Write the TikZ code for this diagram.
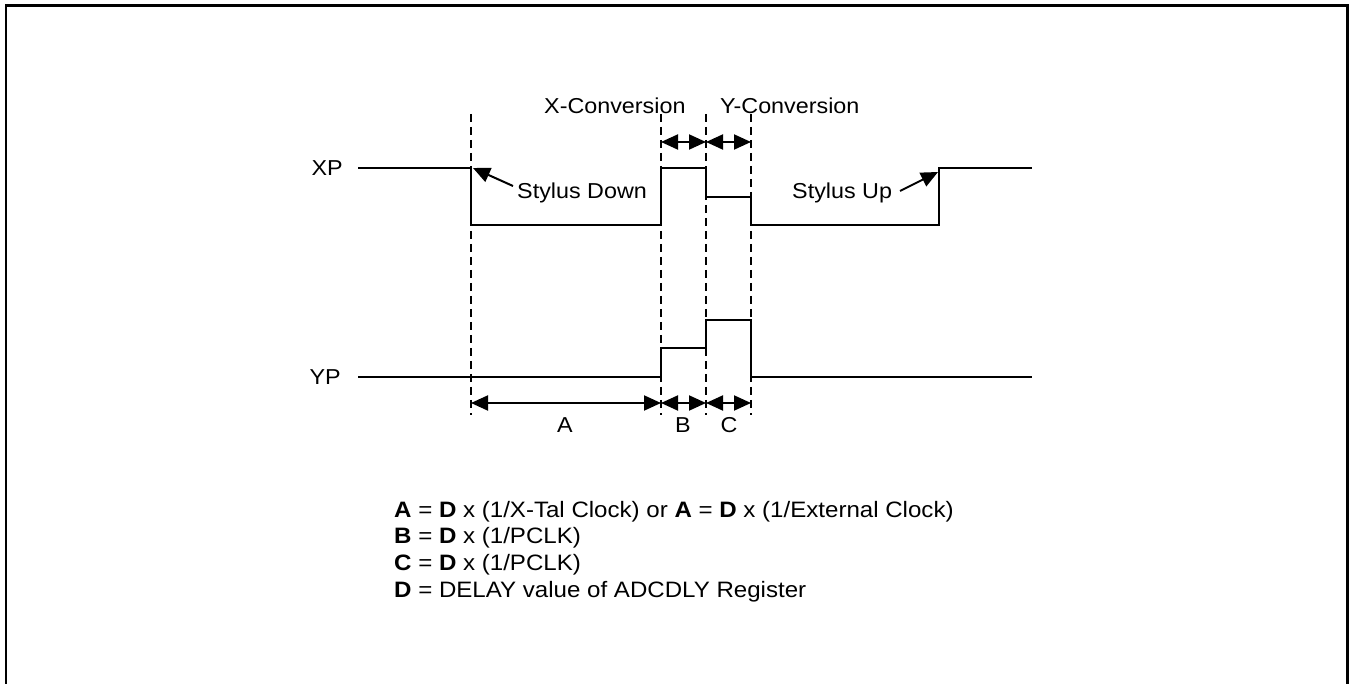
\documentclass[tikz,border=0pt]{standalone}
\usepackage{fontspec}
\setmainfont{Liberation Sans}[FakeStretch=1.08]
\usetikzlibrary{arrows.meta}
\tikzset{
  sig/.style={line width=2pt, line cap=butt, line join=miter},
  guide/.style={line width=2pt, dash pattern=on 8pt off 5pt},
  dim/.style={line width=2pt, {Triangle[length=17pt,width=15pt]}-{Triangle[length=17pt,width=15pt]}},
  callout/.style={line width=2pt, -{Triangle[length=17pt,width=15pt]}},
  txt/.style={inner sep=0pt, font=\fontsize{21.6}{26}\selectfont},
  legend/.style={inner sep=0pt, font=\fontsize{22.3}{27}\selectfont},
}
\begin{document}
\begin{tikzpicture}[x=1pt,y=-1pt]
\useasboundingbox (0,0) rectangle (1349,684);
% frame (open at bottom)
\draw[line width=2.5pt] (6,684) -- (6,5.7) -- (1347.5,5.7) -- (1347.5,684);

% guide lines
\coordinate (g1t) at (471,114); \coordinate (g1b) at (471,415);
\coordinate (g2t) at (661,114); \coordinate (g2b) at (661,415);
\coordinate (g3t) at (706,114); \coordinate (g3b) at (706,415);
\coordinate (g4t) at (751,114); \coordinate (g4b) at (751,415);
\foreach \i in {1,2,3,4} \draw[guide] (g\i t) -- (g\i b);

% labels
\node[txt, anchor=base east] (xp) at (343,175.5) {XP};
\node[txt, anchor=base east] (yp) at (341,384.5) {YP};
\node[txt, anchor=base west] (xconv) at (544,114) {X-Conversion};
\node[txt, anchor=base west] (yconv) at (720,114) {Y-Conversion};
\node[txt, anchor=base west] (sdown) at (517,199) {Stylus Down};
\node[txt, anchor=base west] (sup) at (792,199) {Stylus Up};
\node[txt, anchor=base] (la) at (565,432) {A};
\node[txt, anchor=base] (lb) at (683,432) {B};
\node[txt, anchor=base] (lc) at (729,432) {C};

% XP waveform
\draw[sig] (358,168) -- (471,168) -- (471,225) -- (661,225) -- (661,168) -- (706,168)
  -- (706,197) -- (751,197) -- (751,225) -- (939,225) -- (939,168) -- (1032,168);
% YP waveform
\draw[sig] (358,377) -- (661,377) -- (661,348) -- (706,348) -- (706,320) -- (751,320)
  -- (751,377) -- (1032,377);

% conversion arrows
\coordinate (t1) at (661,142); \coordinate (t2) at (706,142); \coordinate (t3) at (751,142);
\draw[dim] (t1) -- (t2);
\draw[dim] (t2) -- (t3);
\coordinate (b0) at (471,403); \coordinate (b1) at (661,403);
\coordinate (b2) at (706,403); \coordinate (b3) at (751,403);
\draw[dim] (b0) -- (b1);
\draw[dim] (b1) -- (b2);
\draw[dim] (b2) -- (b3);

% callouts
\coordinate (sdtip) at (473,168);
\coordinate (sdtail) at (513,186);
\draw[callout] (sdtail) -- (sdtip);
\coordinate (suptail) at (900,191);
\coordinate (suptip) at (938,172);
\draw[callout] (suptail) -- (suptip);

% legend
\node[legend, anchor=base west] (l1) at (394,517) {\textbf{A} = \textbf{D} x (1/X-Tal Clock) or \textbf{A} = \textbf{D} x (1/External Clock)};
\node[legend, anchor=base west] (l2) at (394,543.5) {\textbf{B} = \textbf{D} x (1/PCLK)};
\node[legend, anchor=base west] (l3) at (394,570) {\textbf{C} = \textbf{D} x (1/PCLK)};
\node[legend, anchor=base west] (l4) at (394,597) {\textbf{D} = DELAY value of ADCDLY Register};
\end{tikzpicture}
\end{document}
